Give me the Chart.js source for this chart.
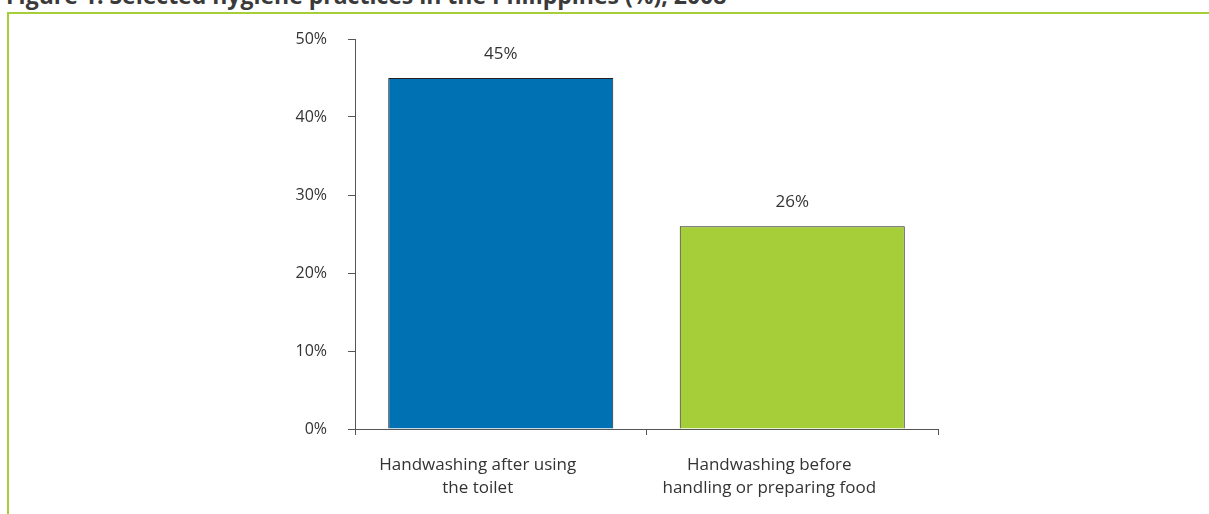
<!DOCTYPE html>
<html lang="en">
<head>
    <meta charset="UTF-8">
    <title>Selected hygiene practices in the Philippines</title>
    <script src="https://cdn.jsdelivr.net/npm/chart.js"></script>
    <style>
        html, body { margin: 0; padding: 0; background: #fff; overflow: hidden; }
        #wrap { position: relative; width: 1209px; height: 514px; overflow: hidden; }
        #title {
            position: absolute; left: 6px; top: -16px;
            font: bold 23px "Open Sans", sans-serif; color: #3a3a3a;
            line-height: 23px; white-space: nowrap;
        }
        /* green frame around the figure */
        #frame {
            position: absolute; left: 7px; top: 12px; width: 1220px; height: 520px;
            border-top: 2px solid #a6ce39; border-left: 2px solid #a6ce39;
            box-sizing: border-box;
        }
        #box { position: absolute; left: 0; top: 0; width: 1209px; height: 514px; }
    </style>
</head>
<body>
    <div id="wrap">
        <div id="title">Figure 1: Selected hygiene practices in the Philippines (%), 2008</div>
        <div id="frame"></div>
        <div id="box"><canvas id="chart"></canvas></div>
    </div>

    <script>
        // chart data
        const categories = [
            ['Handwashing after using', 'the toilet'],
            ['Handwashing before', 'handling or preparing food']
        ];
        const values = [45, 26];
        const barColors = ['#0071b3', '#a6ce39'];
        const yTicks = [0, 10, 20, 30, 40, 50];

        // draws "45%" etc. above each bar
        const valueLabels = {
            id: 'valueLabels',
            afterDatasetsDraw(chart) {
                const ctx = chart.ctx;
                ctx.save();
                ctx.font = '17px "Open Sans", sans-serif';
                ctx.fillStyle = '#333';
                ctx.textAlign = 'center';
                ctx.textBaseline = 'alphabetic';
                chart.getDatasetMeta(0).data.forEach((bar, i) => {
                    ctx.fillText(values[i] + '%', bar.x, bar.y - 19);
                });
                ctx.restore();
            }
        };

        // category labels sit a little left of the bar centres in the original
        const categoryLabels = {
            id: 'categoryLabels',
            afterDraw(chart) {
                const ctx = chart.ctx;
                const x = chart.scales.x;
                ctx.save();
                ctx.font = '17px "Open Sans", sans-serif';
                ctx.fillStyle = '#333';
                ctx.textAlign = 'center';
                ctx.textBaseline = 'middle';
                categories.forEach((lines, i) => {
                    const cx = x.getPixelForValue(i) - 23;
                    lines.forEach((line, j) => {
                        ctx.fillText(line, cx, x.top + 36 + j * 23.5);
                    });
                });
                ctx.restore();
            }
        };

        new Chart(document.getElementById('chart'), {
            type: 'bar',
            data: {
                labels: categories,
                datasets: [{
                    data: values,
                    backgroundColor: barColors,
                    borderColor: '#231f20',
                    borderWidth: 1,
                    barPercentage: 0.772,
                    categoryPercentage: 1
                }]
            },
            options: {
                responsive: true,
                maintainAspectRatio: false,
                animation: false,
                layout: { padding: { top: 39, right: 271, left: 0, bottom: 0 } },
                plugins: {
                    legend: { display: false },
                    tooltip: { enabled: false }
                },
                scales: {
                    x: {
                        offset: true,
                        grid: {
                            offset: true,
                            drawOnChartArea: false,
                            drawTicks: true,
                            tickLength: 6,
                            color: '#555'
                        },
                        border: { display: true, color: '#555', width: 1 },
                        ticks: {
                            color: 'rgba(0,0,0,0)',
                            padding: 19,
                            maxRotation: 0,
                            font: { family: '"Open Sans", sans-serif', size: 17, lineHeight: 1.38 }
                        },
                        afterFit: s => { s.height = 85; }
                    },
                    y: {
                        min: 0,
                        max: 50,
                        afterBuildTicks: s => { s.ticks = yTicks.map(v => ({ value: v })); },
                        grid: {
                            drawOnChartArea: false,
                            drawTicks: true,
                            tickLength: 7,
                            color: '#555'
                        },
                        border: { display: true, color: '#555', width: 1 },
                        ticks: {
                            color: '#333',
                            padding: 21,
                            font: { family: '"Open Sans", sans-serif', size: 16 },
                            callback: v => v + '%'
                        },
                        afterFit: s => { s.width = 355; }
                    }
                }
            },
            plugins: [valueLabels, categoryLabels]
        });
    </script>
</body>
</html>
